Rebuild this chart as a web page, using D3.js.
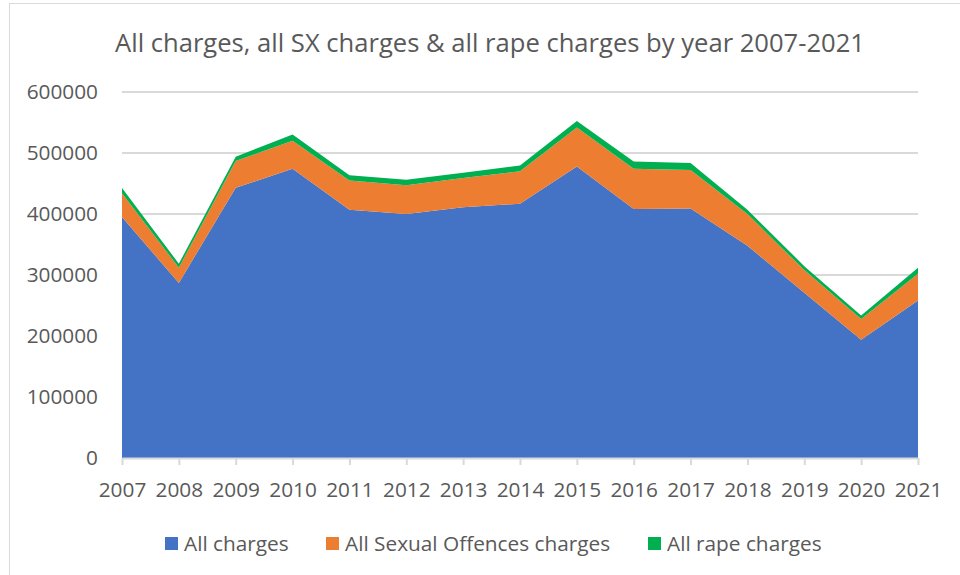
<!DOCTYPE html>
<html>
<head>
<meta charset="utf-8">
<script src="https://cdn.jsdelivr.net/npm/d3@7"></script>
<style>
  body { margin: 0; background: #fff; }
  text { font-family: "Open Sans", sans-serif; fill: #595959; }
</style>
</head>
<body>
<div id="chart"></div>
<script>
// data
var years = ['2007', '2008', '2009', '2010', '2011', '2012', '2013', '2014', '2015', '2016', '2017', '2018', '2019', '2020', '2021'];
var allCharges = [395000, 287000, 443000, 474000, 407000, 400000, 411000, 417000, 478000, 408000, 409000, 348000, 271000, 194000, 258000];
var sxCharges = [39000, 25000, 44000, 46000, 48000, 47000, 48000, 53000, 64000, 66000, 63000, 52000, 37000, 34000, 44000];
var rapeCharges = [8500, 6500, 7000, 10500, 8500, 9000, 8500, 9500, 10500, 12000, 11500, 7000, 6500, 5500, 10000];
var seriesNames = ['All charges', 'All Sexual Offences charges', 'All rape charges'];
var yTicks = [0, 100000, 200000, 300000, 400000, 500000, 600000];

var colors = ['#4472C4', '#ED7D31', '#00B050'];
var W = 960, H = 575;
var fs = 20.8;

var svg = d3.select('#chart').append('svg').attr('width', W).attr('height', H);

// outer frame (runs off right / bottom edge)
svg.append('rect').attr('x', 9.5).attr('y', 3.5).attr('width', 1000).attr('height', 700)
    .attr('fill', 'none').attr('stroke', '#d9d9d9').attr('stroke-width', 1);

var x = d3.scalePoint().domain(years).range([122, 918]).padding(0);
var y = d3.scaleLinear().domain([0, 600000]).range([458, 92]);

var table = years.map(function (yr, i) {
    return {year: yr, a: allCharges[i], b: sxCharges[i], c: rapeCharges[i]};
});
var stacked = d3.stack().keys(['a', 'b', 'c'])(table);

// gridlines
svg.append('g').selectAll('line').data(yTicks.slice(1)).enter().append('line')
    .attr('x1', 122).attr('x2', 918)
    .attr('y1', function (d) { return Math.round(y(d)); })
    .attr('y2', function (d) { return Math.round(y(d)); })
    .attr('stroke', '#d9d9d9').attr('stroke-width', 2);

// areas
var area = d3.area()
    .x(function (d) { return x(d.data.year); })
    .y0(function (d) { return y(d[0]); })
    .y1(function (d) { return y(d[1]); });

svg.append('g').selectAll('path').data(stacked).enter().append('path')
    .attr('d', area)
    .attr('fill', function (d, i) { return colors[i]; });

// y axis labels
var yAxis = svg.append('g').attr('transform', 'translate(122,0)')
    .call(d3.axisLeft(y).tickValues(yTicks).tickFormat(d3.format('d')).tickSize(0).tickPadding(24));
yAxis.select('.domain').remove();
yAxis.selectAll('text').attr('font-size', fs).attr('font-family', null);

// x axis
var xAxis = svg.append('g').attr('transform', 'translate(0,' + Math.round(y(0)) + ')')
    .call(d3.axisBottom(x).tickSize(7).tickSizeOuter(0).tickPadding(17));
xAxis.select('.domain').attr('stroke', '#d9d9d9').attr('stroke-width', 2);
xAxis.selectAll('line').attr('stroke', '#d9d9d9').attr('stroke-width', 2);
xAxis.selectAll('text').attr('font-size', fs).attr('font-family', null);

// title
svg.append('text').attr('x', 115).attr('y', 52)
    .attr('font-size', 25).attr('textLength', 750).attr('lengthAdjust', 'spacingAndGlyphs')
    .text('All charges, all SX charges & all rape charges by year 2007-2021');

// legend
var legendX = [165, 326, 648];
var legend = svg.append('g').selectAll('g').data(seriesNames).enter().append('g')
    .attr('transform', function (d, i) { return 'translate(' + legendX[i] + ',537)'; });
legend.append('rect').attr('width', 13).attr('height', 13)
    .attr('fill', function (d, i) { return colors[i]; });
legend.append('text').attr('x', 19).attr('y', 13.5).attr('font-size', fs)
    .text(function (d) { return d; });
</script>
</body>
</html>
